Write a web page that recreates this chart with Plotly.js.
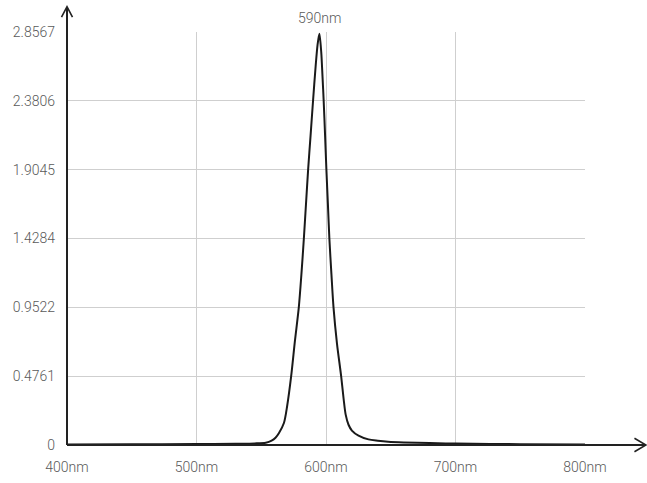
<!DOCTYPE html>
<html>
<head>
<meta charset="utf-8">
<script src="https://cdn.plot.ly/plotly-3.0.1.min.js"></script>
<style>html,body{margin:0;padding:0;background:#fff;}#chart{width:647px;height:483px;}</style>
</head>
<body>
<div id="chart"></div>
<script>
// Wavelength (nm) and relative intensity
const wavelength = [400, 450, 500, 530, 545, 553.5, 558, 561, 563.7, 567.5, 570, 573.1, 576, 579, 581, 582.9, 584.5, 586.2, 588, 590, 592, 593.5, 594.9, 596.3, 597.3, 598.2, 599.3, 600.3, 601.5, 602.6, 604.2, 605.8, 608.5, 611.7, 613.6, 615.2, 617.4, 620, 625.1, 632.8, 640, 648, 660, 680, 700, 750, 800];
const intensity  = [0.004, 0.005, 0.007, 0.009, 0.011, 0.016, 0.03, 0.05, 0.083, 0.152, 0.27, 0.476, 0.72, 0.952, 1.18, 1.428, 1.66, 1.905, 2.13, 2.381, 2.62, 2.77, 2.845, 2.72, 2.55, 2.381, 2.14, 1.905, 1.66, 1.428, 1.18, 0.952, 0.70, 0.476, 0.32, 0.21, 0.14, 0.10, 0.065, 0.039, 0.03, 0.023, 0.018, 0.013, 0.01, 0.006, 0.003];
const xTickVals = [400, 500, 600, 700, 800];
const xTickText = ["400nm", "500nm", "600nm", "700nm", "800nm"];
const yTickVals = [0, 0.4761, 0.9522, 1.4284, 1.9045, 2.3806, 2.8567];
const yTickText = ["0", "0.4761", "0.9522", "1.4284", "1.9045", "2.3806", "2.8567"];
const peakLabel = "590nm";
const peakWavelength = 594.9;

const L = 67, R = 585.5, T = 32.3, B = 445, W = 647, H = 483;
const pw = R - L, ph = B - T;
const px = v => (v - L) / pw;      // pixel x -> paper
const py = v => (B - v) / ph;      // pixel y -> paper
const axisColor = '#222';
const labelFont = {family:'Roboto, "Noto Sans", sans-serif', size:14, color:'#5a5a5a', weight:300};

const shapes = [
  {type:'line', xref:'paper', yref:'paper', x0:px(L), y0:py(B), x1:px(646), y1:py(B), line:{color:axisColor, width:2}},
  {type:'path', xref:'paper', yref:'paper', path:`M ${px(635)} ${py(B-6.7)} L ${px(646.5)} ${py(B)} L ${px(635)} ${py(B+6.7)}`, line:{color:axisColor, width:1.6}},
  {type:'line', xref:'paper', yref:'paper', x0:px(L), y0:py(B), x1:px(L), y1:py(7.5), line:{color:axisColor, width:2}},
  {type:'path', xref:'paper', yref:'paper', path:`M ${px(L-5.5)} ${py(17.5)} L ${px(L)} ${py(7)} L ${px(L+5.5)} ${py(17.5)}`, line:{color:axisColor, width:1.6}}
];

const trace = {
  x: wavelength, y: intensity, type:'scatter', mode:'lines',
  line:{color:'#1a1a1a', width:2, shape:'spline', smoothing:0.8},
  hoverinfo:'skip', cliponaxis:false
};

const layout = {
  width: W, height: H,
  margin:{l:L, r:W-R, t:T, b:H-B, pad:0},
  paper_bgcolor:'#fff', plot_bgcolor:'#fff',
  showlegend:false,
  font:labelFont,
  xaxis:{range:[400,800], tickvals:xTickVals, ticktext:xTickText, showgrid:true, gridcolor:'#cfcfcf', gridwidth:1,
         zeroline:false, showline:false, ticks:'', ticklabelstandoff:12, tickfont:labelFont, fixedrange:true},
  yaxis:{range:[0,2.8567], tickvals:yTickVals, ticktext:yTickText, showgrid:true, gridcolor:'#cfcfcf', gridwidth:1,
         zeroline:false, showline:false, ticks:'', ticklabelstandoff:11, tickfont:labelFont, fixedrange:true},
  shapes: shapes,
  annotations:[{x:peakWavelength, xref:'x', y:py(18), yref:'paper', text:peakLabel, showarrow:false,
                font:labelFont, xanchor:'center', yanchor:'middle'}]
};

Plotly.newPlot('chart', [trace], layout, {staticPlot:true, displayModeBar:false});
</script>
</body>
</html>
